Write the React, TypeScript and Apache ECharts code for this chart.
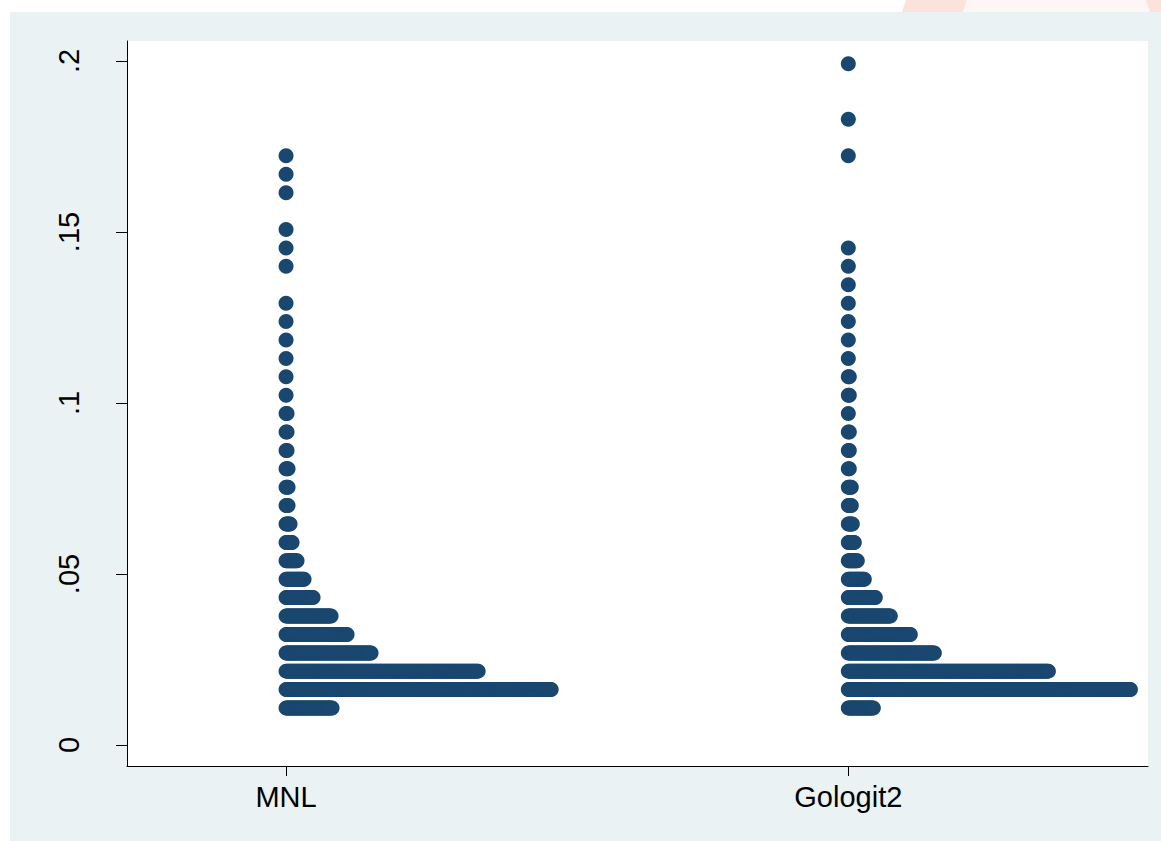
import React, { useEffect, useRef } from "react";
import * as echarts from "echarts";

// ---- data ----
const categories = ["MNL", "Gologit2"];

// y value of each dot row (bin centre)
const binValues = [
  0.0108, 0.0162, 0.0216, 0.0269, 0.0323, 0.0377, 0.0431, 0.0485, 0.0539,
  0.0592, 0.0646, 0.07, 0.0754, 0.0808, 0.0861, 0.0915, 0.0969, 0.1023,
  0.1077, 0.113, 0.1184, 0.1238, 0.1292, 0.1346, 0.14, 0.1453, 0.1507,
  0.1561, 0.1615, 0.1669, 0.1723, 0.1776, 0.183, 0.1884, 0.1938, 0.1992,
];

// number of dots in each row
const mnlCounts = [
  47, 266, 193, 86, 62, 46, 28, 19, 12, 7, 5, 3, 3, 3, 2, 2, 2, 1, 1, 1, 1, 1,
  1, 0, 1, 1, 1, 0, 1, 1, 1, 0, 0, 0, 0, 0,
];
const gologitCounts = [
  26, 283, 201, 87, 63, 43, 28, 17, 10, 7, 5, 4, 4, 2, 2, 2, 1, 2, 2, 1, 1, 1,
  1, 1, 1, 1, 0, 0, 0, 0, 1, 0, 1, 0, 0, 1,
];

const yTickValues = [0, 0.05, 0.1, 0.15, 0.2];
const yTickLabels = ["0", ".05", ".1", ".15", ".2"];

// ---- layout / style ----
const DOT_STEP = 1 / 562; // horizontal offset between stacked dots (x units)
const X_MIN = 0.7171;
const X_MAX = 2.533;
const Y_MIN = -0.00614;
const Y_MAX = 0.20585;
const FONT = "'Liberation Sans', Arial, Helvetica, sans-serif";
const DOT_COLOR = "#1a476f";

function buildDots(groupPos: number, counts: number[]) {
  const pts: number[][] = [];
  counts.forEach((c, k) => {
    for (let i = 0; i < c; i++) {
      pts.push([groupPos + i * DOT_STEP, binValues[k]]);
    }
  });
  return pts;
}

export default function App() {
  const ref = useRef<HTMLDivElement>(null);
  useEffect(() => {
    if (!ref.current) return;
    const chart = echarts.init(ref.current, undefined, { renderer: "svg" });
    const option = {
      animation: false,
      backgroundColor: "#ffffff",
      graphic: [
        {
          type: "polygon",
          silent: true,
          z: -20,
          shape: { points: [[902, 12], [906, 0], [967, 0], [963, 12]] },
          style: { fill: "#fbe2db" },
        },
        {
          type: "polygon",
          silent: true,
          z: -20,
          shape: { points: [[967, 0], [1146, 0], [1150, 12], [963, 12]] },
          style: { fill: "#fdf6f4" },
        },
        {
          type: "polygon",
          silent: true,
          z: -20,
          shape: { points: [[1146, 0], [1161, 0], [1161, 12], [1150, 12]] },
          style: { fill: "#fbe2db" },
        },
        {
          type: "rect",
          silent: true,
          z: -10,
          shape: { x: 10, y: 12, width: 1151, height: 829 },
          style: { fill: "#eaf2f3" },
        },
      ],
      grid: {
        left: 127,
        top: 41,
        right: 13,
        bottom: 75,
        show: true,
        backgroundColor: "#ffffff",
        borderWidth: 0,
      },
      xAxis: {
        type: "value",
        min: X_MIN,
        max: X_MAX,
        axisLine: { show: true, onZero: false, lineStyle: { color: "#000", width: 1 } },
        axisTick: {
          show: true,
          customValues: [1, 2],
          length: 10,
          lineStyle: { color: "#000", width: 1 },
        },
        axisLabel: {
          customValues: [1, 2],
          formatter: (v: number) => categories[Math.round(v) - 1],
          fontSize: 29,
          fontFamily: FONT,
          color: "#000",
          margin: 16,
        },
        splitLine: { show: false },
      },
      yAxis: {
        type: "value",
        min: Y_MIN,
        max: Y_MAX,
        axisLine: { show: true, onZero: false, lineStyle: { color: "#000", width: 1 } },
        axisTick: {
          show: true,
          customValues: yTickValues,
          length: 11,
          lineStyle: { color: "#000", width: 1 },
        },
        axisLabel: {
          customValues: yTickValues,
          formatter: (v: number) => {
            const idx = yTickValues.findIndex((t) => Math.abs(t - v) < 1e-9);
            return idx >= 0 ? yTickLabels[idx] : "";
          },
          rotate: 90,
          fontSize: 29,
          fontFamily: FONT,
          color: "#000",
          margin: 44,
        },
        splitLine: { show: false },
      },
      series: [
        {
          name: categories[0],
          type: "scatter",
          data: buildDots(1, mnlCounts),
          symbol: "circle",
          symbolSize: 15,
          itemStyle: { color: DOT_COLOR, opacity: 1 },
          silent: true,
        },
        {
          name: categories[1],
          type: "scatter",
          data: buildDots(2, gologitCounts),
          symbol: "circle",
          symbolSize: 15,
          itemStyle: { color: DOT_COLOR, opacity: 1 },
          silent: true,
        },
      ],
    };
    chart.setOption(option as any);
    return () => chart.dispose();
  }, []);
  return (
    <div
      ref={ref}
      style={{ position: "absolute", left: 0, top: 0, width: 1161, height: 841 }}
    />
  );
}
